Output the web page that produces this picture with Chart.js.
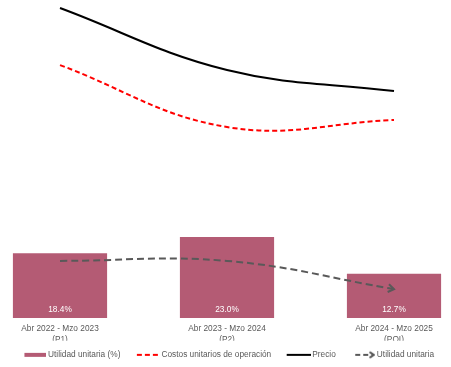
<!DOCTYPE html>
<html><head><meta charset="utf-8">
<script src="https://cdn.jsdelivr.net/npm/chart.js@4.4.1/dist/chart.umd.min.js"></script>
<style>html,body{margin:0;padding:0;background:#fff;overflow:hidden}#wrap{width:451px;height:367px;position:relative}</style>
</head><body><div id="wrap"><canvas id="c"></canvas></div>
<script>
const periodLabels = ['Abr 2022 - Mzo 2023', 'Abr 2023 - Mzo 2024', 'Abr 2024 - Mzo 2025'];
const periodCodes = ['(P1)', '(P2)', '(POI)'];
const utilidadPct = [18.4, 23.0, 12.7];
const precio = [100, 80.0, 73.2];
const costos = [81.6, 61.6, 63.9];
const utilidadUnitaria = [18.4, 18.4, 9.3];
const seriesNames = ['Utilidad unitaria (%)', 'Costos unitarios de operación', 'Precio', 'Utilidad unitaria'];

const FONT = "'Liberation Sans', Arial, sans-serif";
const FS = 8.3;
const BAR = '#b45b74', RED = '#ff0000', BLACK = '#000000', GRAY = '#595959', TXT = '#595959';

const toXY = arr => arr.map((v, i) => ({ x: i, y: v }));

function arrowHead(g, x, y, ang, size) {
  g.beginPath();
  g.moveTo(x - size * Math.cos(ang - 0.6), y - size * Math.sin(ang - 0.6));
  g.lineTo(x, y);
  g.lineTo(x - size * Math.cos(ang + 0.6), y - size * Math.sin(ang + 0.6));
  g.stroke();
}

function swatch(kind) {
  const W = 32, H = 10, cv = document.createElement('canvas');
  cv.width = W; cv.height = H;
  const g = cv.getContext('2d'), y = H / 2;
  if (kind === 'bar') { g.fillStyle = BAR; g.fillRect(W - 22, y - 2, 22, 4); }
  else if (kind === 'red') { g.strokeStyle = RED; g.lineWidth = 2; g.setLineDash([5, 3]); g.beginPath(); g.moveTo(W - 23, y); g.lineTo(W, y); g.stroke(); }
  else if (kind === 'black') { g.strokeStyle = BLACK; g.lineWidth = 2; g.beginPath(); g.moveTo(W - 24, y); g.lineTo(W, y); g.stroke(); }
  else {
    g.strokeStyle = GRAY; g.lineWidth = 2; g.setLineDash([5, 3]);
    g.beginPath(); g.moveTo(W - 20, y); g.lineTo(W - 3, y); g.stroke();
    g.setLineDash([]); arrowHead(g, W - 1.5, y, 0, 5);
  }
  return cv;
}
const swatches = [swatch('bar'), swatch('red'), swatch('black'), swatch('gray')];

const extras = {
  id: 'extras',
  afterDatasetsDraw(chart) {
    const ctx = chart.ctx;
    const bars = chart.getDatasetMeta(0).data;
    ctx.save();
    ctx.fillStyle = '#ffffff';
    ctx.font = FS + 'px ' + FONT;
    ctx.textAlign = 'center';
    ctx.textBaseline = 'middle';
    bars.forEach((b, i) => ctx.fillText(utilidadPct[i].toFixed(1) + '%', b.x, b.base - 8));
    const pts = chart.getDatasetMeta(3).data;
    const last = pts[pts.length - 1];
    const ang = Math.atan2(last.y - last.cp1y, last.x - last.cp1x);
    ctx.strokeStyle = GRAY; ctx.lineWidth = 2; ctx.setLineDash([]);
    arrowHead(ctx, last.x, last.y, ang, 7);
    ctx.restore();
  }
};

new Chart(document.getElementById('c'), {
  data: {
    datasets: [
      { type: 'bar', label: seriesNames[0], data: toXY(utilidadPct), yAxisID: 'yBar', backgroundColor: BAR,
        borderColor: 'rgba(255,255,255,0.5)', borderWidth: 1, categoryPercentage: 0.8, barPercentage: 0.72, order: 10 },
      { type: 'line', label: seriesNames[1], data: toXY(costos), yAxisID: 'yLine', borderColor: RED, borderWidth: 2,
        borderDash: [5, 3], tension: 0.4, pointRadius: 0, fill: false, order: 2 },
      { type: 'line', label: seriesNames[2], data: toXY(precio), yAxisID: 'yLine', borderColor: BLACK, borderWidth: 2,
        tension: 0.4, pointRadius: 0, fill: false, order: 1 },
      { type: 'line', label: seriesNames[3], data: toXY(utilidadUnitaria), yAxisID: 'yLine', borderColor: GRAY, borderWidth: 2,
        borderDash: [7, 4], tension: 0.4, pointRadius: 0, fill: false, order: 0 }
    ]
  },
  options: {
    responsive: true, maintainAspectRatio: false, animation: false, devicePixelRatio: 1,
    layout: { padding: { left: 0, right: 0, top: 0, bottom: -2 } },
    scales: {
      x: {
        type: 'linear', offset: false, min: -0.3593, max: 2.3413,
        grid: { display: false, drawTicks: false }, border: { display: false },
        ticks: {
          stepSize: 1, includeBounds: false, color: TXT,
          font: { family: FONT, size: FS, lineHeight: 1.34 }, padding: 5, maxRotation: 0, autoSkip: false,
          callback(v) { const i = Math.round(v); return (Math.abs(v - i) < 1e-6 && periodLabels[i]) ? [periodLabels[i], periodCodes[i]] : ''; }
        },
        afterFit(s) { s.height = 22.8; }
      },
      yBar: { type: 'linear', display: false, min: 0, max: 89.2 },
      yLine: { type: 'linear', display: false, min: 0, max: 102.6 }
    },
    plugins: {
      tooltip: { enabled: false },
      legend: {
        position: 'bottom',
        labels: {
          usePointStyle: true, pointStyleWidth: 26.9, padding: 10, color: TXT,
          font: { family: FONT, size: FS },
          generateLabels() {
            return seriesNames.map((t, i) => ({ text: t, pointStyle: swatches[i], fillStyle: 'transparent',
              strokeStyle: 'transparent', lineWidth: 0, hidden: false, datasetIndex: i, fontColor: TXT }));
          }
        }
      }
    }
  },
  plugins: [extras]
});
</script>
</body></html>
